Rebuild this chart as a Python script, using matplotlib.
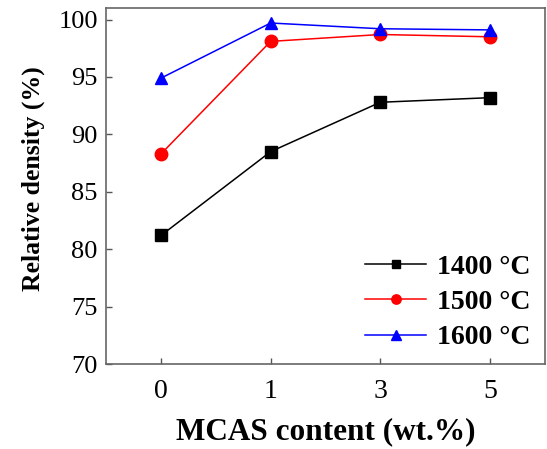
import matplotlib
matplotlib.use("Agg")
import matplotlib.pyplot as plt


CONTENT_LABELS = ["0", "1", "3", "5"]
DENSITY_1400 = [81.2, 88.5, 92.8, 93.2]
DENSITY_1500 = [88.3, 98.1, 98.7, 98.5]
DENSITY_1600 = [94.9, 99.7, 99.2, 99.1]
SERIES_LABELS = ["1400 \u00b0C", "1500 \u00b0C", "1600 \u00b0C"]

plt.rcParams["font.family"] = ["Liberation Serif", "DejaVu Serif"]


def main():
    fig = plt.figure(figsize=(5.47, 4.49), dpi=100)
    ax = fig.add_axes([0.194, 0.189, 0.802, 0.793])

    x = list(range(len(CONTENT_LABELS)))
    ax.plot(x, DENSITY_1400, color="black", marker="s", markersize=8, lw=1.1,
            label=SERIES_LABELS[0])
    ax.plot(x, DENSITY_1500, color="red", marker="o", markersize=9, lw=1.1,
            label=SERIES_LABELS[1])
    ax.plot(x, DENSITY_1600, color="blue", marker="^", markersize=9, lw=1.1,
            label=SERIES_LABELS[2])

    ax.set_xlim(-0.5, 3.5)
    ax.set_ylim(70, 101)
    ax.set_xticks(x)
    ax.set_xticklabels(CONTENT_LABELS)
    ax.set_yticks(range(70, 101, 5))
    ax.tick_params(direction="in", top=False, right=False, labelsize=19,
                   length=4, width=1, color="#555555", pad=6)
    ax.tick_params(axis="x", labelsize=20, pad=11)
    for spine in ax.spines.values():
        spine.set_color("#666666")
        spine.set_linewidth(1.2)

    ax.set_xlabel("MCAS content (wt.%)", fontsize=22.5, fontweight="bold", labelpad=9)
    ax.set_ylabel("Relative density (%)", fontsize=18.5, fontweight="bold")
    ax.yaxis.set_label_coords(-0.14, 0.52)

    ax.legend(loc="lower right", frameon=False,
              prop={"weight": "bold", "size": 20}, handlelength=2.2,
              handletextpad=0.4, labelspacing=0.35, markerscale=0.75,
              borderaxespad=0.1)

    fig.savefig("out.png", dpi=100)
    plt.close(fig)


if __name__ == "__main__":
    main()
